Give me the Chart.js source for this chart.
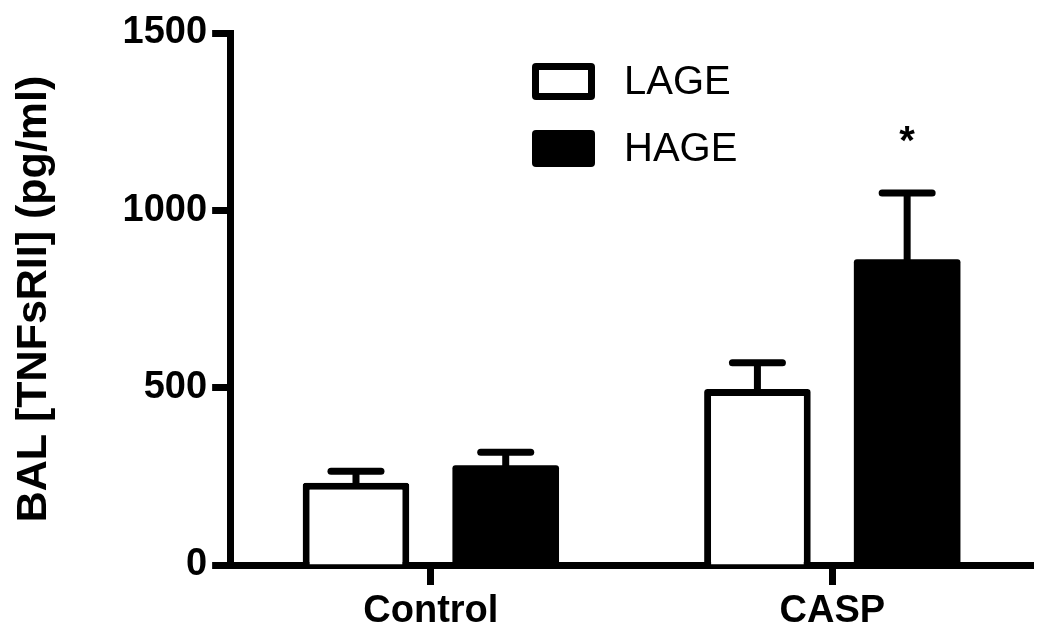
<!DOCTYPE html>
<html>
<head>
<meta charset="utf-8">
<script src="https://cdn.jsdelivr.net/npm/chart.js@4/dist/chart.umd.min.js"></script>
<style>
    body { margin: 0; background: #fff; }
    #wrap { width: 1050px; height: 629px; }
</style>
</head>
<body>
<div id="wrap"><canvas id="tnfChart"></canvas></div>
<script>
let groups = ['Control', 'CASP'];
let seriesNames = ['LAGE', 'HAGE'];
let lageMeans = [232, 496];
let hageMeans = [281, 862];
let lageSem = [32, 74];
let hageSem = [37, 187];
let hageMarks = ['', '*'];
let yTicks = [0, 500, 1000, 1500];

const FONT = '"Liberation Sans", Arial, sans-serif';

// ERROR BARS + SIGNIFICANCE STARS
const errorBars = {
    id: 'errorBars',
    afterDatasetsDraw(chart) {
        const ctx = chart.ctx;
        const yScale = chart.scales.y;
        chart.data.datasets.forEach((ds, i) => {
            const meta = chart.getDatasetMeta(i);
            meta.data.forEach((bar, j) => {
                const top = yScale.getPixelForValue(ds.data[j] + ds.sem[j]);
                ctx.save();
                ctx.strokeStyle = '#000';
                ctx.lineWidth = 7;
                ctx.lineCap = 'butt';
                ctx.beginPath();
                ctx.moveTo(bar.x, bar.y + 3);
                ctx.lineTo(bar.x, top);
                ctx.stroke();
                ctx.lineCap = 'round';
                ctx.beginPath();
                ctx.moveTo(bar.x - 25, top);
                ctx.lineTo(bar.x + 25, top);
                ctx.stroke();
                if (ds.marks && ds.marks[j]) {
                    ctx.fillStyle = '#000';
                    ctx.font = 'bold 40px ' + FONT;
                    ctx.textAlign = 'center';
                    ctx.textBaseline = 'alphabetic';
                    ctx.fillText(ds.marks[j], bar.x, top - 39);
                }
                ctx.restore();
            });
        });
    }
};

// LEGEND INSIDE THE PLOT
const boxLegend = {
    id: 'boxLegend',
    afterDraw(chart) {
        const ctx = chart.ctx;
        const left = 532, top = 63, rowGap = 67;
        chart.data.datasets.forEach((ds, i) => {
            const y = top + i * rowGap;
            ctx.save();
            ctx.fillStyle = '#000';
            ctx.beginPath();
            ctx.roundRect(left, y, 63, 37, 4);
            ctx.fill();
            if (ds.backgroundColor !== '#000') {
                ctx.fillStyle = ds.backgroundColor;
                ctx.fillRect(left + 7, y + 7, 49, 23);
            }
            ctx.fillStyle = '#000';
            ctx.font = '40px ' + FONT;
            ctx.textBaseline = 'middle';
            ctx.fillText(ds.label, left + 92, y + 20);
            ctx.restore();
        });
    }
};

const ctx = document.getElementById('tnfChart');

new Chart(ctx, {
    type: 'bar',
    data: {
        labels: groups,
        datasets: [{
            label: seriesNames[0],
            data: lageMeans,
            sem: lageSem,
            backgroundColor: '#fff',
            borderColor: '#000',
            borderWidth: 7,
            borderRadius: 3,
            barPercentage: 0.712,
            categoryPercentage: 0.746
        }, {
            label: seriesNames[1],
            data: hageMeans,
            sem: hageSem,
            marks: hageMarks,
            backgroundColor: '#000',
            borderWidth: 0,
            borderRadius: 3,
            barPercentage: 0.712,
            categoryPercentage: 0.746
        }]
    },
    options: {
        responsive: true,
        maintainAspectRatio: false,
        animation: false,
        layout: {
            padding: { left: 8, top: 33, right: 17, bottom: -10 }
        },
        plugins: {
            legend: { display: false },
            tooltip: { enabled: false }
        },
        scales: {
            x: {
                grid: {
                    offset: false,
                    drawOnChartArea: false,
                    tickLength: 20,
                    tickWidth: 7,
                    tickColor: '#000'
                },
                border: { color: '#000', width: 7 },
                ticks: {
                    color: '#000',
                    padding: 8,
                    font: { family: FONT, size: 38, weight: 'bold', lineHeight: 1.0 }
                }
            },
            y: {
                min: 0,
                max: 1500,
                afterBuildTicks(axis) {
                    axis.ticks = yTicks.map(v => ({ value: v }));
                },
                grid: {
                    drawOnChartArea: false,
                    tickLength: 18,
                    tickWidth: 7,
                    tickColor: '#000'
                },
                border: { color: '#000', width: 7 },
                ticks: {
                    color: '#000',
                    padding: 5,
                    callback: v => String(v),
                    font: { family: FONT, size: 38, weight: 'bold' }
                },
                title: {
                    display: true,
                    text: 'BAL [TNFsRII] (pg/ml)',
                    color: '#000',
                    padding: { top: 0, bottom: 58 },
                    font: { family: FONT, size: 43, weight: 'bold' }
                }
            }
        }
    },
    plugins: [errorBars, boxLegend]
});
</script>
</body>
</html>
